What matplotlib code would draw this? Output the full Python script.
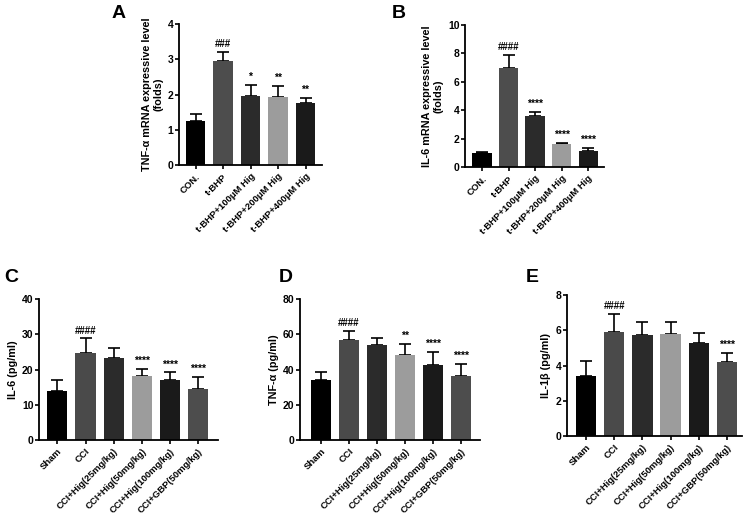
import numpy as np
import matplotlib.pyplot as plt

plt.rcParams['font.family'] = ['Liberation Sans', 'DejaVu Sans']
plt.rcParams['font.weight'] = 'bold'

# ---- data ----
cats_ab = ["CON.", "t-BHP", "t-BHP+100μM Hig", "t-BHP+200μM Hig", "t-BHP+400μM Hig"]
cats_cde = ["Sham", "CCI", "CCI+Hig(25mg/kg)", "CCI+Hig(50mg/kg)",
            "CCI+Hig(100mg/kg)", "CCI+GBP(50mg/kg)"]

a_mean = [1.25, 2.95, 1.97, 1.93, 1.77]
a_sd = [0.20, 0.25, 0.30, 0.32, 0.13]
a_sig = ["", "###", "*", "**", "**"]

b_mean = [1.0, 6.95, 3.6, 1.6, 1.12]
b_sd = [0.05, 0.95, 0.30, 0.12, 0.23]
b_sig = ["", "####", "****", "****", "****"]

c_mean = [13.8, 24.8, 23.2, 18.1, 17.1, 14.5]
c_sd = [3.2, 4.0, 2.8, 2.1, 2.1, 3.5]
c_sig = ["", "####", "", "****", "****", "****"]

d_mean = [33.8, 56.5, 54.0, 48.3, 42.5, 36.3]
d_sd = [4.7, 5.5, 3.8, 6.4, 7.7, 6.9]
d_sig = ["", "####", "", "**", "****", "****"]

e_mean = [3.42, 5.88, 5.75, 5.77, 5.27, 4.20]
e_sd = [0.86, 1.07, 0.70, 0.68, 0.56, 0.53]
e_sig = ["", "####", "", "", "", "****"]

colors_ab = ["#000000", "#4d4d4d", "#2b2b2b", "#9c9c9c", "#1a1a1a"]
colors_cde = ["#000000", "#4a4a4a", "#2b2b2b", "#9c9c9c", "#1a1a1a", "#4d4d4d"]

W, H = 749, 526
fig = plt.figure(figsize=(W / 100, H / 100), dpi=100)


def panel(px_left, px_right, px_top, px_bottom, cats, mean, sd, sig, colors,
          ymax, ystep, xlim, ylabel, letter, letter_xy):
    ax = fig.add_axes([px_left / W, 1 - px_bottom / H,
                       (px_right - px_left) / W, (px_bottom - px_top) / H])
    x = np.arange(len(cats))
    ax.bar(x, mean, width=0.72, color=colors, zorder=2)
    ax.errorbar(x, mean, yerr=[np.zeros(len(sd)), sd], fmt="none",
                ecolor="black", elinewidth=1.2, capsize=4.5, capthick=1.2, zorder=1)
    for xi, m, s, t in zip(x, mean, sd, sig):
        if t:
            fs = 7 if "#" in t else 7.5
            ax.text(xi, m + s + ymax * 0.02, t, ha="center", va="bottom",
                    fontsize=fs, fontweight="bold")
    ax.set_xlim(*xlim)
    ax.set_ylim(0, ymax)
    ax.set_yticks(np.arange(0, ymax + ystep / 2, ystep))
    ax.set_xticks(x)
    ax.set_xticklabels(cats, rotation=45, ha="right", rotation_mode="anchor",
                       fontsize=6.8, fontweight="bold")
    ax.tick_params(axis="y", labelsize=7.5, width=1.2, length=3, pad=1)
    ax.tick_params(axis="x", width=1.2, length=3, pad=2)
    for s in ["top", "right"]:
        ax.spines[s].set_visible(False)
    for s in ["left", "bottom"]:
        ax.spines[s].set_linewidth(1.3)
    ax.set_ylabel(ylabel, fontsize=7.8, fontweight="bold", labelpad=3)
    fig.text(letter_xy[0] / W, 1 - letter_xy[1] / H, letter, fontsize=14,
             fontweight="bold", ha="left", va="center")
    return ax


panel(179, 322, 24, 165, cats_ab, a_mean, a_sd, a_sig, colors_ab, 4, 1,
      (-0.6, 4.6), "TNF-α mRNA expressive level\n(folds)", "A", (112, 13))
panel(465, 604, 25, 167, cats_ab, b_mean, b_sd, b_sig, colors_ab, 10, 2,
      (-0.64, 4.6), "IL-6 mRNA expressive level\n(folds)", "B", (392, 13))
panel(39, 218, 299, 440, cats_cde, c_mean, c_sd, c_sig, colors_cde, 40, 10,
      (-0.65, 5.7), "IL-6 (pg/ml)", "C", (4, 277))
panel(300, 480, 299, 440, cats_cde, d_mean, d_sd, d_sig, colors_cde, 80, 20,
      (-0.75, 5.68), "TNF-α (pg/ml)", "D", (279, 277))
panel(567, 742, 295, 436, cats_cde, e_mean, e_sd, e_sig, colors_cde, 8, 2,
      (-0.67, 5.53), "IL-1β (pg/ml)", "E", (526, 277))

fig.savefig("out.png", dpi=100)
